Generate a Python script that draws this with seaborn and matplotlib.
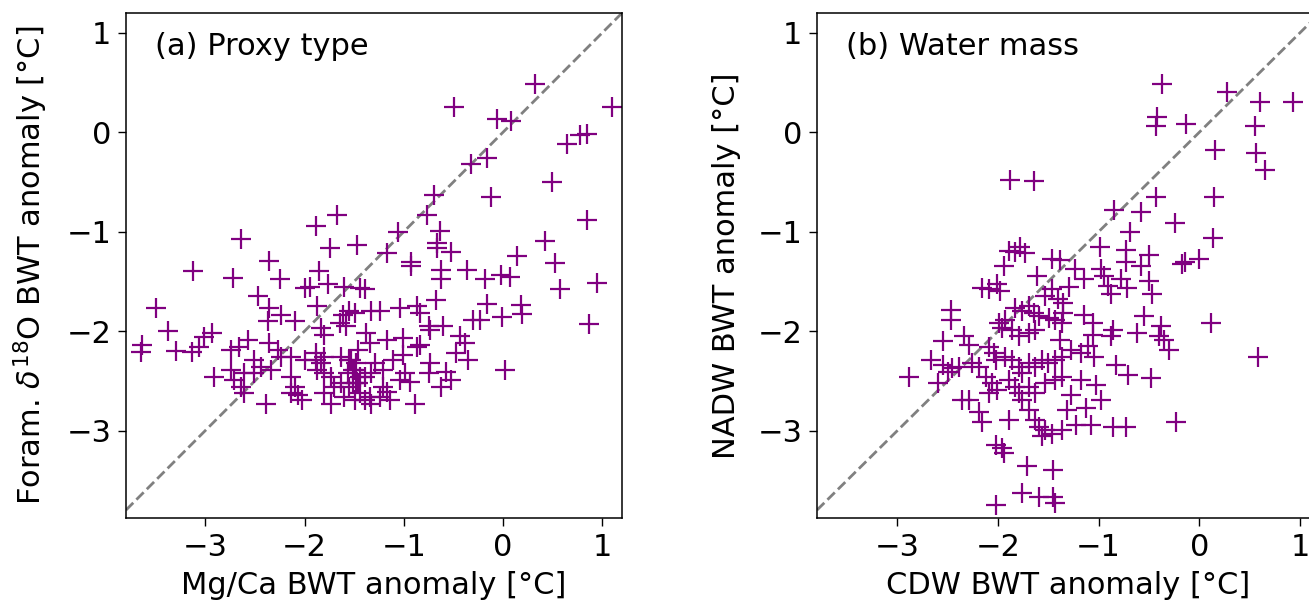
import matplotlib

matplotlib.use("Agg")
import matplotlib.pyplot as plt
import pandas as pd
import seaborn as sns

# --- Data ---
# Panel (a): Mg/Ca vs foram. d18O bottom-water temperature anomalies
mgca_bwt = [
    0.32, -0.49, 1.10, -0.06, 0.08, 0.65, 0.78, 0.85, -0.32, -0.16,
    0.49, -0.70, -0.12, -0.77, 0.85, -1.06, -0.63, -1.47, -1.17, 0.42,
    -0.66, -0.66, -0.52, -0.93, -0.93, 0.14, 0.52, -0.62, -0.62, -0.36,
    -0.18, -0.02, 0.07, 0.95, 0.57, -1.44, -1.39, -0.68, -0.16, 0.18,
    0.19, -1.55, -1.33, -1.24, -1.04, -0.87, -0.84, -0.30, -0.23, -0.01,
    0.87, -0.75, -0.74, -0.60, -1.38, -1.34, -1.17, -1.01, -0.84, -0.87,
    -0.43, -0.38, -0.47, -0.35, 0.02, -1.55, -1.48, -1.51, -1.44, -1.51,
    -1.29, -1.21, -1.11, -1.01, -0.74, -0.75, -0.57, -0.52, -0.62, -0.99,
    -1.04, -0.94, -1.21, -1.17, -1.24, -1.14, -1.34, -1.39, -1.33, -0.89,
    -1.55, -1.48, -1.44, -1.67, -1.88, -1.74, -2.64, -2.36, -3.12, -2.72,
    -2.25, -1.85, -2.00, -1.95, -1.76, -1.60, -2.47, -3.50, -1.87, -2.36,
    -2.24, -2.37, -2.10, -1.61, -1.49, -1.83, -1.80, -1.64, -1.58, -3.38,
    -2.93, -3.01, -3.06, -3.13, -3.64, -3.65, -3.30, -2.57, -2.66, -2.74,
    -2.36, -2.27, -2.24, -2.14, -2.00, -1.88, -1.83, -1.80, -1.88, -1.63,
    -1.53, -1.46, -2.51, -2.44, -2.34, -2.91, -2.74, -2.71, -2.61, -2.51,
    -2.64, -2.61, -2.39, -2.14, -2.10, -2.14, -2.03, -2.07, -1.87, -1.80,
    -1.73, -1.70, -1.63, -1.56, -1.49, -1.46, -1.39, -1.33, -1.80, -1.73,
    -1.60, -1.49,
]
d18o_bwt = [
    0.49, 0.25, 0.25, 0.13, 0.11, -0.12, -0.03, -0.02, -0.32, -0.26,
    -0.50, -0.63, -0.65, -0.83, -0.88, -1.00, -0.99, -1.13, -1.21, -1.09,
    -1.11, -1.16, -1.20, -1.30, -1.35, -1.24, -1.31, -1.39, -1.48, -1.39,
    -1.48, -1.44, -1.46, -1.52, -1.58, -1.57, -1.58, -1.69, -1.73, -1.74,
    -1.83, -1.80, -1.80, -1.80, -1.77, -1.75, -1.82, -1.89, -1.89, -1.86,
    -1.93, -1.95, -1.99, -1.95, -2.02, -2.12, -2.09, -2.07, -2.14, -2.16,
    -2.05, -2.12, -2.22, -2.29, -2.39, -2.29, -2.32, -2.39, -2.46, -2.52,
    -2.32, -2.39, -2.29, -2.24, -2.32, -2.42, -2.41, -2.49, -2.56, -2.42,
    -2.49, -2.51, -2.56, -2.61, -2.66, -2.69, -2.66, -2.69, -2.73, -2.73,
    -2.56, -2.52, -2.62, -0.83, -0.94, -1.16, -1.07, -1.29, -1.40, -1.47,
    -1.48, -1.40, -1.57, -1.56, -1.53, -1.56, -1.65, -1.77, -1.75, -1.77,
    -1.84, -1.90, -1.90, -1.84, -1.82, -1.97, -2.04, -1.92, -1.95, -2.00,
    -2.02, -2.06, -2.16, -2.21, -2.14, -2.21, -2.20, -2.09, -2.16, -2.19,
    -2.12, -2.19, -2.26, -2.26, -2.29, -2.22, -2.32, -2.26, -2.29, -2.26,
    -2.29, -2.19, -2.29, -2.36, -2.39, -2.46, -2.39, -2.49, -2.42, -2.42,
    -2.56, -2.62, -2.73, -2.46, -2.56, -2.62, -2.69, -2.64, -2.39, -2.42,
    -2.46, -2.56, -2.52, -2.42, -2.39, -2.52, -2.46, -2.42, -2.62, -2.73,
    -2.66, -2.69,
]

# Panel (b): CDW vs NADW bottom-water temperature anomalies
cdw_bwt = [
    -0.37, 0.28, 0.60, 0.93, -0.42, -0.43, -0.13, 0.55, 0.16, 0.56,
    0.65, -0.43, 0.15, -0.85, -0.58, -0.24, -0.69, 0.14, -0.99, -0.73,
    -0.73, -0.50, -0.58, -0.17, -0.14, 0.00, -1.38, -0.98, -0.95, -0.91,
    -1.15, -0.78, -0.72, -0.50, -0.47, -0.88, -1.35, -1.35, -1.15, -1.06,
    -1.06, -0.86, -0.88, -0.55, -0.62, -0.38, -0.40, -0.35, -0.30, 0.12,
    0.58, -1.38, -1.28, -1.18, -1.11, -1.05, -1.88, -1.64, -1.89, -1.83,
    -1.78, -1.73, -1.94, -1.46, -1.61, -2.16, -2.09, -2.01, -1.98, -1.53,
    -1.46, -1.40, -1.83, -1.76, -1.69, -1.64, -1.59, -1.49, -1.43, -1.36,
    -1.99, -1.96, -1.93, -1.86, -1.79, -1.69, -1.63, -2.47, -2.47, -2.34,
    -2.29, -2.55, -2.67, -2.55, -2.50, -2.46, -2.39, -2.89, -2.60, -2.26,
    -2.19, -2.09, -2.04, -2.02, -1.93, -1.86, -1.79, -1.76, -1.69, -1.63,
    -1.56, -1.50, -1.43, -1.36, -2.12, -2.06, -2.01, -2.09, -1.89, -1.83,
    -1.79, -1.76, -1.69, -1.63, -1.53, -1.43, -1.36, -2.36, -2.29, -2.19,
    -2.16, -1.89, -1.69, -1.63, -1.59, -1.53, -1.46, -1.36, -1.56, -2.02,
    -1.96, -1.94, -1.71, -1.45, -1.76, -1.59, -1.45, -1.43, -2.02, -1.13,
    -0.98, -0.86, -0.73, -0.23, -0.48, -1.28, -1.18, -1.03, -1.31, -1.23,
    -1.08, -1.30, -1.24, -0.83, -0.71,
]
nadw_bwt = [
    0.49, 0.41, 0.30, 0.30, 0.15, 0.06, 0.08, 0.06, -0.18, -0.21,
    -0.38, -0.65, -0.65, -0.78, -0.80, -0.91, -1.00, -1.06, -1.15, -1.18,
    -1.30, -1.23, -1.35, -1.32, -1.30, -1.27, -1.28, -1.38, -1.45, -1.55,
    -1.48, -1.48, -1.57, -1.50, -1.63, -1.63, -1.72, -1.82, -1.84, -1.92,
    -2.04, -1.99, -2.05, -1.85, -2.02, -1.95, -2.05, -2.09, -2.19, -1.92,
    -2.26, -2.09, -2.19, -2.22, -2.15, -2.26, -0.48, -0.49, -1.19, -1.20,
    -1.15, -1.21, -1.35, -1.27, -1.45, -1.57, -1.58, -1.53, -1.60, -1.65,
    -1.58, -1.68, -1.77, -1.80, -1.75, -1.82, -1.85, -1.87, -1.89, -1.92,
    -1.92, -1.97, -1.89, -1.99, -2.05, -2.02, -1.99, -1.79, -1.89, -2.05,
    -2.14, -2.10, -2.29, -2.34, -2.41, -2.37, -2.36, -2.46, -2.52, -2.32,
    -2.36, -2.16, -2.22, -2.29, -2.26, -2.29, -2.36, -2.42, -2.32, -2.36,
    -2.29, -2.32, -2.29, -2.26, -2.46, -2.52, -2.59, -2.62, -2.49, -2.56,
    -2.62, -2.69, -2.56, -2.62, -2.52, -2.49, -2.46, -2.69, -2.69, -2.81,
    -2.91, -2.89, -2.79, -2.89, -2.96, -2.99, -3.03, -2.99, -3.06, -3.15,
    -3.18, -3.23, -3.36, -3.40, -3.63, -3.67, -3.67, -3.73, -3.75, -2.77,
    -2.69, -2.96, -2.96, -2.91, -2.47, -2.64, -2.49, -2.54, -2.79, -2.94,
    -2.94, -1.56, -1.38, -2.34, -2.44,
]

panels = [
    ("(a) Proxy type", mgca_bwt, d18o_bwt,
     "Mg/Ca BWT anomaly [°C]", r"Foram. $\delta^{18}$O BWT anomaly [°C]"),
    ("(b) Water mass", cdw_bwt, nadw_bwt,
     "CDW BWT anomaly [°C]", "NADW BWT anomaly [°C]"),
]

# --- Plotting ---
sns.set_style("ticks")
plt.rcParams["font.family"] = ["DejaVu Sans"]
plt.rcParams["font.size"] = 22
plt.rcParams["axes.edgecolor"] = "black"
plt.rcParams["xtick.color"] = "black"
plt.rcParams["ytick.color"] = "black"
plt.rcParams["text.color"] = "black"
plt.rcParams["axes.labelcolor"] = "black"

fig = plt.figure(figsize=(13.09, 6.03), dpi=100)
# panel (b) deliberately runs past the right edge, as in the reference crop
positions = [
    [126 / 1309, 85 / 603, 496 / 1309, 505 / 603],
    [817 / 1309, 85 / 603, 503 / 1309, 505 / 603],
]

for (title, xs, ys, xlabel, ylabel), pos in zip(panels, positions):
    ax = fig.add_axes(pos)
    df = pd.DataFrame({"x": xs, "y": ys})
    ax.axline((0, 0), slope=1, color="gray", ls="--", lw=2, zorder=1)
    sns.scatterplot(
        data=df, x="x", y="y", ax=ax, marker="+", color="purple",
        s=200, linewidth=1.6, zorder=2,
    )
    ax.set_xlim(-3.8, 1.2)
    ax.set_ylim(-3.88, 1.2)
    ax.set_xticks([-3, -2, -1, 0, 1])
    ax.set_yticks([-3, -2, -1, 0, 1])
    ax.tick_params(labelsize=22, length=5.5, width=1)
    ax.tick_params(axis="x", pad=5.5)
    ax.tick_params(axis="y", pad=5)
    ax.set_xlabel(xlabel, fontsize=22, labelpad=6)
    ax.set_ylabel(ylabel, fontsize=22, labelpad=12)
    ax.text(0.058, 0.933, title, transform=ax.transAxes, fontsize=22,
            va="center", ha="left")
    for sp in ax.spines.values():
        sp.set_linewidth(1.1)

fig.savefig("out.png", dpi=100)
